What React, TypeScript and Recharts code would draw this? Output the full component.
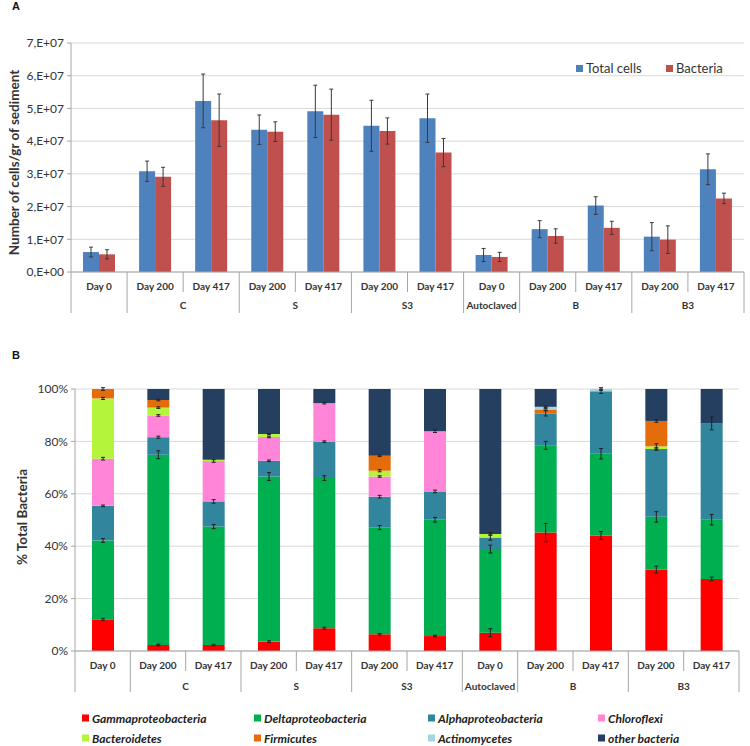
import React from "react";
import { BarChart, Bar, XAxis, YAxis, CartesianGrid, ErrorBar } from "recharts";

// x categories (two-level axis)
const days = ["Day 0", "Day 200", "Day 417", "Day 200", "Day 417", "Day 200", "Day 417", "Day 0", "Day 200", "Day 417", "Day 200", "Day 417"];
const groups = ["", "C", "C", "S", "S", "S3", "S3", "Autoclaved", "B", "B", "B3", "B3"];

// panel A: cells per gram of sediment
const totalCells = [6.1e6, 3.08e7, 5.23e7, 4.35e7, 4.91e7, 4.47e7, 4.7e7, 5.2e6, 1.31e7, 2.03e7, 1.08e7, 3.14e7];
const totalCellsErr = [1.5e6, 3.1e6, 8.2e6, 4.5e6, 8.0e6, 7.8e6, 7.4e6, 2.0e6, 2.6e6, 2.7e6, 4.3e6, 4.7e6];
const bacteria = [5.4e6, 2.91e7, 4.64e7, 4.29e7, 4.81e7, 4.31e7, 3.65e7, 4.6e6, 1.1e7, 1.35e7, 9.9e6, 2.25e7];
const bacteriaErr = [1.4e6, 2.9e6, 8.0e6, 3.0e6, 7.8e6, 4.0e6, 4.3e6, 1.4e6, 2.2e6, 2.0e6, 4.2e6, 1.6e6];
const cellTicks = [0, 1e7, 2e7, 3e7, 4e7, 5e7, 6e7, 7e7];

// panel B: % of total bacteria
const gamma = [12.1, 2.3, 2.3, 3.6, 8.7, 6.4, 5.7, 7.0, 45.2, 44.1, 31.1, 27.5];
const delta = [30.1, 72.6, 45.2, 63.0, 57.3, 40.7, 44.4, 31.9, 33.3, 31.2, 20.1, 22.6];
const alpha = [13.2, 6.7, 9.6, 6.0, 13.9, 11.8, 10.8, 4.4, 12.2, 23.8, 25.9, 36.8];
const chloroflexi = [18.0, 8.3, 15.4, 9.1, 14.7, 7.7, 23.0, 0, 0, 0, 0, 0];
const bacteroidetes = [23.0, 3.0, 0.5, 1.1, 0, 2.2, 0, 1.4, 0, 0, 1.0, 0];
const firmicutes = [3.6, 2.9, 0, 0, 0, 5.7, 0, 0, 1.5, 0, 9.7, 0];
const actinomycetes = [0, 0, 0, 0, 0, 0, 0, 0, 1.0, 0.9, 0, 0];
const other = [0, 4.2, 27.0, 17.2, 5.4, 25.5, 16.1, 55.3, 6.8, 0, 12.2, 13.1];

const gammaErr = [0.4, 0.3, 0.3, 0.3, 0.4, 0.3, 0.3, 1.5, 3.5, 1.5, 1.3, 0.7];
const deltaErr = [0.7, 1.5, 0.8, 1.5, 0.9, 0.8, 0.9, 1.5, 1.5, 2.0, 2.0, 2.0];
const alphaErr = [0.3, 0.4, 0.7, 0.3, 0.3, 0.5, 0.5, 1.0, 1.0, 0.8, 0.5, 2.5];
const chloroflexiErr = [0.5, 0.3, 0.5, 0.3, 0.3, 0.3, 0.5, 0, 0, 0, 0, 0];
const bacteroidetesErr = [0.4, 0.3, 0, 0.2, 0, 0.4, 0, 0.5, 0, 0, 1.0, 0];
const firmicutesErr = [0.5, 0.3, 0, 0, 0, 0.3, 0, 0, 0.3, 0, 0.5, 0];
const actinomycetesErr = [0, 0, 0, 0, 0, 0, 0, 0, 0.3, 0.5, 0, 0];
const percentTicks = [0, 20, 40, 60, 80, 100];

const taxa = [
  { key: "gamma", name: "Gammaproteobacteria", color: "#FF0000", values: gamma, err: gammaErr },
  { key: "delta", name: "Deltaproteobacteria", color: "#00B050", values: delta, err: deltaErr },
  { key: "alpha", name: "Alphaproteobacteria", color: "#31859C", values: alpha, err: alphaErr },
  { key: "chloroflexi", name: "Chloroflexi", color: "#FF85D8", values: chloroflexi, err: chloroflexiErr },
  { key: "bacteroidetes", name: "Bacteroidetes", color: "#B4F53C", values: bacteroidetes, err: bacteroidetesErr },
  { key: "firmicutes", name: "Firmicutes", color: "#E46C0A", values: firmicutes, err: firmicutesErr },
  { key: "actinomycetes", name: "Actinomycetes", color: "#A5D5E2", values: actinomycetes, err: actinomycetesErr },
  { key: "other", name: "other bacteria", color: "#243F60", values: other, err: null as number[] | null },
];

const FONT = "Lato, 'Open Sans', sans-serif";
const TEXT = "#333333";
const GRID = "#D9D9D9";
const BORDER = "#A6A6A6";

const cellsData = days.map((d, i) => ({
  day: d,
  total: totalCells[i],
  totalErr: totalCellsErr[i],
  bacteria: bacteria[i],
  bacteriaErr: bacteriaErr[i],
}));

const pctData = days.map((d, i) => {
  const row: Record<string, number | string> = { day: d };
  taxa.forEach((t) => {
    row[t.key] = t.values[i];
    if (t.err) row[t.key + "Err"] = t.err[i];
  });
  return row;
});

const sciFormat = (v: number) => (v === 0 ? "0,E+00" : `${Math.round(v / 1e7)},E+07`);

// two-level category tick: day label, separators, and group label centred over its span
function makeCategoryTick(band: number, shortLen: number, longLen: number, dayDy: number, groupDy: number) {
  return function CategoryTick(props: any) {
    const { x, y, index } = props;
    const i = index as number;
    const left = x - band / 2;
    const groupStart = i === 0 || groups[i] !== groups[i - 1];
    let span = 1;
    while (i + span < groups.length && groups[i + span] === groups[i]) span++;
    return (
      <g>
        <line x1={left} x2={left} y1={y} y2={y + (groupStart ? longLen : shortLen)} stroke={BORDER} />
        {i === days.length - 1 && (
          <line x1={x + band / 2} x2={x + band / 2} y1={y} y2={y + longLen} stroke={BORDER} />
        )}
        <text x={x} y={y + dayDy} textAnchor="middle" fontSize={10} fontWeight={700} fill={TEXT} fontFamily={FONT}>
          {days[i]}
        </text>
        {groupStart && groups[i] && (
          <text x={left + (span * band) / 2} y={y + groupDy} textAnchor="middle" fontSize={10} fontWeight={700} fill={TEXT} fontFamily={FONT}>
            {groups[i]}
          </text>
        )}
      </g>
    );
  };
}

function AxisTitle({ viewBox, value, dx, dy }: any) {
  const cx = viewBox.x + dx;
  const cy = viewBox.y + viewBox.height / 2 + dy;
  return (
    <text x={cx} y={cy} transform={`rotate(-90, ${cx}, ${cy})`} textAnchor="middle" dominantBaseline="central"
      fontSize={13.5} fontWeight={700} fill={TEXT} fontFamily={FONT}>
      {value}
    </text>
  );
}

const square = (color: string) => (
  <span style={{ display: "inline-block", width: 7, height: 7, background: color, marginRight: 3 }} />
);

// legend positions (left edge of swatch, row centre) taken from the figure
const cellsLegendLeft = [576, 666];
const taxaLegendLeft = [82, 254, 428, 598];
const taxaLegendRows = [718, 738];

function CellsLegend() {
  const items = [
    { name: "Total cells", color: "#4F81BD" },
    { name: "Bacteria", color: "#C0504D" },
  ];
  return (
    <>
      {items.map((it, i) => (
        <div key={it.name} style={{ position: "absolute", left: cellsLegendLeft[i], top: 68, transform: "translateY(-50%)", display: "flex", alignItems: "center", fontFamily: FONT, fontSize: 13, color: TEXT, whiteSpace: "nowrap" }}>
          {square(it.color)}
          {it.name}
        </div>
      ))}
    </>
  );
}

function TaxaLegend() {
  return (
    <>
      {taxa.map((t, i) => (
        <div key={t.key} style={{ position: "absolute", left: taxaLegendLeft[i % 4], top: taxaLegendRows[Math.floor(i / 4)], transform: "translateY(-50%)", display: "flex", alignItems: "center", fontFamily: FONT, fontSize: 12, fontWeight: 700, fontStyle: "italic", color: "#222", whiteSpace: "nowrap" }}>
          {square(t.color)}
          {t.name}
        </div>
      ))}
    </>
  );
}

const panelLetter = (letter: string, top: number) => (
  <div style={{ position: "absolute", left: 12, top, fontFamily: "'Liberation Sans', Arial, sans-serif", fontWeight: 700, fontSize: 11, color: "#111" }}>
    {letter}
  </div>
);

export default function App() {
  return (
    <div style={{ position: "absolute", left: 0, top: 0, width: 750, height: 746, background: "#fff", overflow: "hidden" }}>
      <div style={{ position: "absolute", left: 0, top: 0 }}>
        <BarChart width={750} height={320} data={cellsData} margin={{ top: 43, right: 6, bottom: 0, left: 0 }} barGap={0}>
          <CartesianGrid vertical={false} stroke={GRID} />
          <XAxis dataKey="day" height={48} interval={0} tickSize={0} tickMargin={0} axisLine={{ stroke: BORDER }}
            tick={makeCategoryTick((744 - 71) / 12, 20, 41, 18, 37)} />
          <YAxis width={71} domain={[0, 7e7]} ticks={cellTicks} tickFormatter={sciFormat} interval={0}
            axisLine={{ stroke: BORDER }} tickLine={{ stroke: BORDER }} tickSize={4} tickMargin={3}
            tick={{ fontSize: 12, fill: TEXT, fontFamily: FONT }}
            label={{ content: (p: any) => <AxisTitle {...p} value="Number of cells/gr of sediment" dx={14} dy={5} /> }} />
          <YAxis yAxisId="frame" orientation="right" width={0} tick={false} tickLine={false} axisLine={{ stroke: BORDER }} />
          <Bar dataKey="total" name="Total cells" fill="#4F81BD" barSize={16} isAnimationActive={false}>
            <ErrorBar dataKey="totalErr" direction="y" width={2} stroke="#3a3a3a" strokeWidth={1} />
          </Bar>
          <Bar dataKey="bacteria" name="Bacteria" fill="#C0504D" barSize={16} isAnimationActive={false}>
            <ErrorBar dataKey="bacteriaErr" direction="y" width={2} stroke="#3a3a3a" strokeWidth={1} />
          </Bar>
        </BarChart>
      </div>

      <div style={{ position: "absolute", left: 0, top: 340 }}>
        <BarChart width={750} height={406} data={pctData} margin={{ top: 49, right: 11, bottom: 45, left: 0 }} barGap={0}>
          <CartesianGrid vertical={false} stroke={GRID} />
          <XAxis dataKey="day" height={50} interval={0} tickSize={0} tickMargin={0} axisLine={{ stroke: BORDER }}
            tick={makeCategoryTick((739 - 75) / 12, 20, 41, 18, 39)} />
          <YAxis width={75} domain={[0, 100]} allowDataOverflow ticks={percentTicks} tickFormatter={(v: number) => `${v}%`}
            interval={0} axisLine={{ stroke: BORDER }} tickLine={{ stroke: BORDER }} tickSize={4} tickMargin={3}
            tick={{ fontSize: 12, fill: TEXT, fontFamily: FONT }}
            label={{ content: (p: any) => <AxisTitle {...p} value="% Total Bacteria" dx={22} dy={-3} /> }} />
          <YAxis yAxisId="frame" orientation="right" width={0} tick={false} tickLine={false} axisLine={{ stroke: BORDER }} />
          {taxa.map((t) => (
            <Bar key={t.key} dataKey={t.key} name={t.name} stackId="pct" fill={t.color} barSize={22} isAnimationActive={false}>
              {t.err && <ErrorBar dataKey={t.key + "Err"} direction="y" width={2} stroke="#222" strokeWidth={1} />}
            </Bar>
          ))}
        </BarChart>
      </div>

      {panelLetter("A", 0)}
      {panelLetter("B", 349)}
      <CellsLegend />
      <TaxaLegend />
    </div>
  );
}
